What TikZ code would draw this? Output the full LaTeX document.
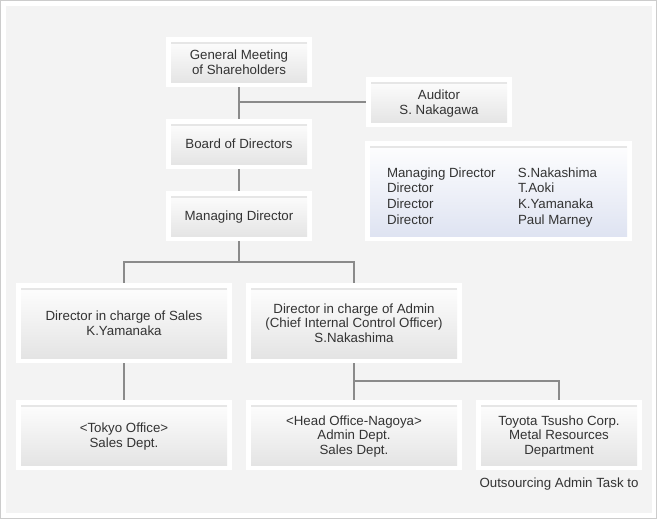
\documentclass[tikz,border=0pt]{standalone}
\usepackage{fontspec}
\setmainfont{Liberation Sans}
\usetikzlibrary{calc}
\definecolor{bggray}{HTML}{F3F3F3}
\definecolor{framegray}{HTML}{CCCCCC}
\definecolor{linegray}{HTML}{8A8A8A}
\definecolor{unitgray}{HTML}{E2E2E2}
\definecolor{rulegray}{HTML}{E6E6E6}
\definecolor{infoblue}{HTML}{DDE2F1}
\definecolor{txtgray}{HTML}{333333}
\newcommand\unitfont{\fontsize{13.3}{14.5}\selectfont}
\newcommand\topfont{\fontsize{13.3}{15.5}\selectfont}
\begin{document}
\begin{tikzpicture}[x=1pt,y=-1pt]

		\tikzstyle{fade}  = [top color=white, middle color=white, bottom color=unitgray]
		\tikzstyle{unit}  = [rectangle, fill=white, minimum width=146pt, minimum height=50pt, inner sep=0pt, align=center, font=\unitfont, text=txtgray, text depth=-4pt,
			path picture={
				\shade[fade] ([shift={(5pt,5pt)}]path picture bounding box.south west) rectangle ([shift={(-5pt,-5pt)}]path picture bounding box.north east);
				\draw[rulegray, line width=1.5pt] ([shift={(5pt,-6pt)}]path picture bounding box.north west) -- ([shift={(-5pt,-6pt)}]path picture bounding box.north east);
			}]
		\tikzstyle{link}  = [draw=linegray, line width=2pt]
		%%Background
		\useasboundingbox (0,0) rectangle (658,520);
		\fill[white] (0,0) rectangle (658,520);
		\draw[framegray, line width=1pt] (0.5,0.5) rectangle (656.5,518.5);
		\fill[bggray] (6,6) rectangle (651.5,513);
		%%Units
		\node [unit, font=\topfont, text depth=-2pt](gm) at (239,62) {General Meeting\\of Shareholders};
		\node [unit, font=\topfont, text depth=-2pt](aud) at (439,102) {Auditor\\S. Nakagawa};
		\node [unit](bod) at (239,144) {Board of Directors};
		\node [unit](md) at (239,216) {Managing Director};
		\node [unit, minimum width=267pt, minimum height=100pt, fade/.style={top color=white, middle color=white, bottom color=infoblue}](board) at (498.5,191) {};
		\node [anchor=west, inner sep=0pt, text=txtgray, font=\fontsize{13.3}{15.7}\selectfont](boardlist) at ($(board.west)+(22,6.5)$) {%
			\begin{tabular}{@{}p{131pt}@{}l@{}}
				Managing Director & S.Nakashima\\
				Director & T.Aoki\\
				Director & K.Yamanaka\\
				Director & Paul Marney
			\end{tabular}};
		\node [unit, minimum width=216pt, minimum height=80pt](sales) at (124,323) {Director in charge of Sales\\K.Yamanaka};
		\node [unit, minimum width=216pt, minimum height=80pt](admin) at (354,323) {Director in charge of Admin\\(Chief Internal Control Officer)\\S.Nakashima};
		\node [unit, minimum width=216pt, minimum height=70pt](tokyo) at (124,435) {<Tokyo Office>\\Sales Dept.};
		\node [unit, minimum width=216pt, minimum height=70pt](head) at (354,435) {<Head Office-Nagoya>\\Admin Dept.\\Sales Dept.};
		\node [unit, minimum width=166pt, minimum height=70pt](toyota) at (559,435) {Toyota Tsusho Corp.\\Metal Resources\\Department};
		\node [inner sep=0pt, text=txtgray, font=\unitfont](note) at ($(toyota.south)+(0,14)$) {Outsourcing Admin Task to};
		%%Edges
		\coordinate (split) at ($(md.south)+(0,21)$);
		\coordinate (split2) at ($(admin.south)+(0,18)$);
		\draw[link] (gm)--(bod)--(md);
		\draw[link] (aud.west -| gm.south)--(aud.west);
		\draw[link] (md.south)--(split) -| (sales.north);
		\draw[link] (split) -| (admin.north);
		\draw[link] (sales)--(tokyo);
		\draw[link] (admin)--(head);
		\draw[link] (split2) -| (toyota.north);
	\end{tikzpicture}
\end{document}
